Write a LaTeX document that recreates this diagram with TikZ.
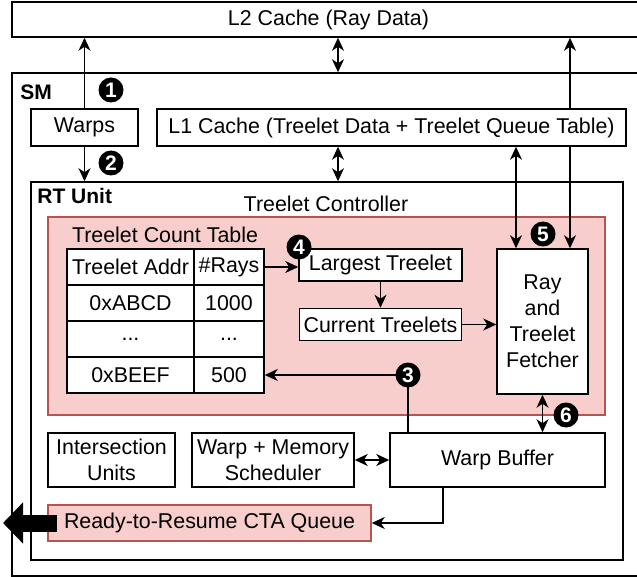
\documentclass[tikz,border=0pt]{standalone}
\usepackage{fontspec}
\setmainfont{Liberation Sans}
\usetikzlibrary{arrows.meta, positioning, calc}

\definecolor{ctrlfill}{HTML}{F8CECC}
\definecolor{ctrldraw}{HTML}{B85450}

\begin{document}
\begin{tikzpicture}[
    x=0.5pt, y=-0.5pt,
    font=\fontsize{10.7}{13}\selectfont,
    box/.style={rectangle, draw, fill=white, line width=0.75pt, inner sep=0pt, align=center},
    frame/.style={rectangle, draw, line width=0.75pt, inner sep=0pt},
    pinkbox/.style={rectangle, draw=ctrldraw, fill=ctrlfill, line width=0.75pt, inner sep=0pt, align=center},
    cell/.style={box, minimum height=18pt},
    tag/.style={font=\fontsize{10.5}{12}\selectfont\bfseries, anchor=west, inner sep=0pt},
    badge/.style={circle, fill=black, text=white, inner sep=0pt, minimum size=12.5pt, font=\fontsize{10.5}{10.5}\selectfont\bfseries},
    arrow/.style={-{Stealth[length=6.5pt, width=6pt, inset=2pt]}, line width=0.7pt},
    twoway/.style={{Stealth[length=6.5pt, width=6pt, inset=2pt]}-{Stealth[length=6.5pt, width=6pt, inset=2pt]}, line width=0.7pt},
    exitarrow/.style={-{Triangle[length=10pt, width=20pt]}, line width=8.5pt}
]
    \useasboundingbox (0,0) rectangle (637,577);

    % outer containers
    \node[frame, minimum width=316.5pt, minimum height=251.5pt] (sm) at (328.5,324.5) {};
    \node[tag] (smlabel) at (20,92) {SM};
    \node[box, minimum width=316.5pt, minimum height=17.5pt] (l2) at (328.5,19.5) {L2 Cache (Ray Data)};
    \node[frame, minimum width=296pt, minimum height=189pt] (rt) at (327,371) {};
    \node[tag] (rtlabel) at (37,196) {RT Unit};
    \node (ctrllabel) at (326,204) {Treelet Controller};

    % vertical taps
    \coordinate (bus) at (338,0);
    \coordinate (tapa) at (516,0);
    \coordinate (tapb) at (570,0);
    \coordinate (tapc) at (408,0);
    \coordinate (tapd) at (443,0);
    \coordinate (exit) at (3,523);

    \node[pinkbox, minimum width=278.5pt, minimum height=99pt] (ctrl) at (326.5,316) {};
    \node (tablelabel) at (165,235) {Treelet Count Table};

    \node[box, minimum width=45.5pt, minimum height=72.5pt] (fetch) at (542.5,321.5) {Ray\\and\\Treelet\\Fetcher};

    % ray data path, runs behind the L1 box
    \draw[twoway] (fetch.north -| tapb) -- (l2.south -| tapb);

    \node[box, minimum width=53.5pt, minimum height=18.5pt] (warps) at (84.5,127.5) {Warps};
    \node[box, minimum width=234.5pt, minimum height=18.5pt] (l1) at (391.5,127.5) {L1 Cache (Treelet Data + Treelet Queue Table)};

    % treelet count table
    \node[cell, minimum width=63.5pt] (h1) at (130.5,267) {Treelet Addr};
    \node[cell, minimum width=35pt] (h2) at (229,267) {\#Rays};
    \node[cell, minimum width=63.5pt] (a1) at (130.5,303) {0xABCD};
    \node[cell, minimum width=35pt] (a2) at (229,303) {1000};
    \node[cell, minimum width=63.5pt] (b1) at (130.5,339) {...};
    \node[cell, minimum width=35pt] (b2) at (229,339) {...};
    \node[cell, minimum width=63.5pt] (c1) at (130.5,375) {0xBEEF};
    \node[cell, minimum width=35pt] (c2) at (229,375) {500};

    \node[box, minimum width=81.5pt, minimum height=16pt] (largest) at (380.5,265) {Largest Treelet};
    \node[box, minimum width=81pt, minimum height=16pt, below=13pt of largest] (current) {Current Treelets};

    \node[box, minimum width=63.5pt, minimum height=27pt] (isect) at (111.5,460) {Intersection\\Units};
    \node[box, minimum width=81pt, minimum height=27pt] (sched) at (273,460) {Warp + Memory\\Scheduler};
    \node[box, minimum width=107.5pt, minimum height=27pt] (buffer) at (497.5,460) {Warp Buffer};
    \node[pinkbox, minimum width=161.5pt, minimum height=18pt] (queue) at (209.5,523) {Ready-to-Resume CTA Queue};

    % connectors
    \draw[arrow] (warps.north) -- (warps.north |- l2.south);
    \draw[arrow] (warps.south) -- (warps.south |- rt.north);
    \draw[twoway] (l2.south -| bus) -- (sm.north -| bus);
    \draw[twoway] (l1.south -| bus) -- (rt.north -| bus);
    \draw[twoway] (l1.south -| tapa) -- (fetch.north -| tapa);
    \draw[arrow] (h2.east) -- (h2.east -| largest.west);
    \draw[arrow] (largest.south) -- (current.north);
    \draw[arrow] (current.east) -- (current.east -| fetch.west);
    \draw[arrow] (buffer.north -| tapc) |- (c2.east);
    \draw[twoway] (fetch.south) -- (fetch.south |- buffer.north);
    \draw[twoway] (sched.east) -- (buffer.west);
    \draw[arrow] (buffer.south -| tapd) |- (queue.east);
    \draw[exitarrow] ([xshift=5pt]queue.west) -- (exit);

    % step markers
    \node[badge] (s1) at (111,90) {1};
    \node[badge] (s2) at (111,163) {2};
    \node[badge] (s3) at (tapc |- c2.east) {3};
    \node[badge] (s4) at (299,247) {4};
    \node[badge] (s5) at (543,234) {5};
    \node[badge] (s6) at (566,415) {6};
\end{tikzpicture}
\end{document}
